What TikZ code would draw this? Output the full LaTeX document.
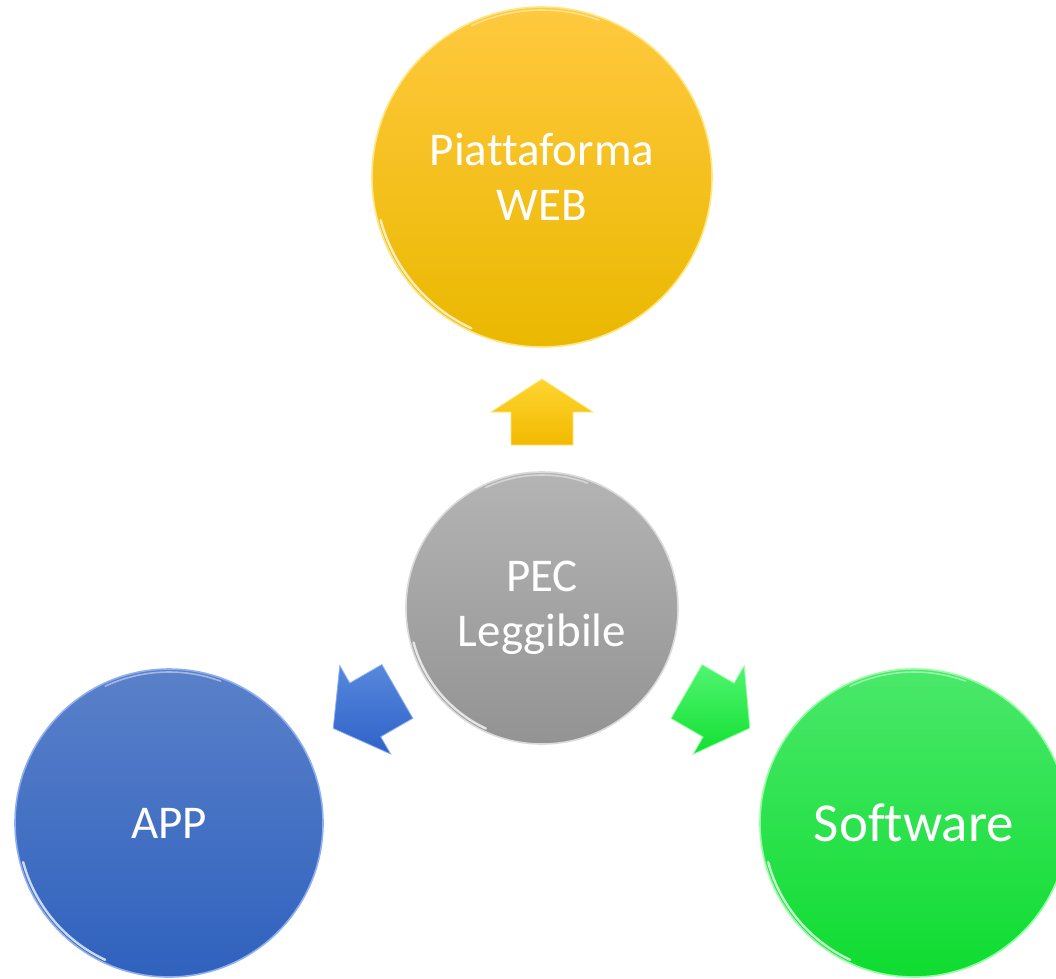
\documentclass[tikz,border=0pt]{standalone}
\usepackage{fontspec}
\setmainfont{Carlito}[Ligatures=NoCommon]
\usetikzlibrary{calc}
\definecolor{yTop}{HTML}{FFC93E}
\definecolor{yMid}{HTML}{FFC800}
\definecolor{yBot}{HTML}{EAB800}
\definecolor{yRim}{HTML}{FFE680}
\definecolor{gTop}{HTML}{B4B4B4}
\definecolor{gBot}{HTML}{939393}
\definecolor{gRim}{HTML}{DADADA}
\definecolor{bTop}{HTML}{5A80C9}
\definecolor{bBot}{HTML}{2F62BE}
\definecolor{bRim}{HTML}{8FB0F0}
\definecolor{vTop}{HTML}{4AE86A}
\definecolor{vBot}{HTML}{0EDC30}
\definecolor{vRim}{HTML}{90FFA0}
\definecolor{yaTop}{HTML}{FFD530}
\definecolor{yaBot}{HTML}{F2B900}
\definecolor{baTop}{HTML}{5688DC}
\definecolor{baBot}{HTML}{2F62C8}
\definecolor{vaTop}{HTML}{50F570}
\definecolor{vaBot}{HTML}{12E032}
\tikzset{
  bubble/.style={circle, inner sep=0pt, text=white, align=center,
    font=\fontsize{47}{55}\selectfont},
  rimline/.style={draw=#1, line width=1.6pt},
  gloss/.style={white, opacity=0.75, line width=2.4pt, line cap=round},
  blockfill/.style n args={3}{top color=#1, bottom color=#2, draw=#3, line width=0.8pt, line join=miter},
}
\newcommand{\blockarrow}[4]{%
  \path[#4] ($(#1)!31pt!90:(#2)$) -- ($(#3)!31pt!90:(#2)$) -- ($(#3)!51pt!90:(#2)$)
    -- (#2) -- ($(#3)!51pt!-90:(#2)$) -- ($(#3)!31pt!-90:(#2)$)
    -- ($(#1)!31pt!-90:(#2)$) -- cycle;}
\begin{document}
\begin{tikzpicture}[x=1pt,y=-1pt]
\useasboundingbox (0,0) rectangle (1056,978);

% circles
\node[bubble, minimum size=340pt, top color=yTop, middle color=yMid, bottom color=yBot, rimline=yRim] (web) at (542,177) {Piattaforma\\WEB};
\node[bubble, minimum size=272pt, top color=gTop, bottom color=gBot, rimline=gRim] (pec) at (542,608) {PEC\\Leggibile};
\node[bubble, minimum size=308pt, top color=bTop, bottom color=bBot, rimline=bRim] (app) at (169,823) {APP};
\node[bubble, minimum size=308pt, top color=vTop, bottom color=vBot, rimline=vRim,
      font=\fontsize{55}{64}\selectfont] (sw) at (914,823) {Software};

% glossy rims
\foreach \n/\r in {web/167, pec/133, app/151, sw/151}{
  \begin{scope}[shift={(\n.center)}, x=1pt, y=1pt]
    \draw[gloss] (195:\r) arc (195:245:\r);
    \draw[gloss, opacity=0.45, line width=1.6pt] (70:\r) arc (70:115:\r);
  \end{scope}
}

% arrows
\coordinate (yt) at ($(pec.center)!163pt!(web.center)$);
\coordinate (yp) at ($(pec.center)!229pt!(web.center)$);
\coordinate (yh) at ($(yp)!33pt!(yt)$);
\coordinate (bt) at ($(pec.center)!167pt!(app.center)$);
\coordinate (bp) at ($(pec.center)!241pt!(app.center)$);
\coordinate (bh) at ($(bp)!37pt!(bt)$);
\coordinate (vt) at ($(pec.center)!167pt!(sw.center)$);
\coordinate (vp) at ($(pec.center)!240pt!(sw.center)$);
\coordinate (vh) at ($(vp)!36pt!(vt)$);

\blockarrow{yt}{yp}{yh}{blockfill={yaTop}{yaBot}{yRim}}
\blockarrow{bt}{bp}{bh}{blockfill={baTop}{baBot}{bRim}}
\blockarrow{vt}{vp}{vh}{blockfill={vaTop}{vaBot}{vRim}}
\end{tikzpicture}
\end{document}
